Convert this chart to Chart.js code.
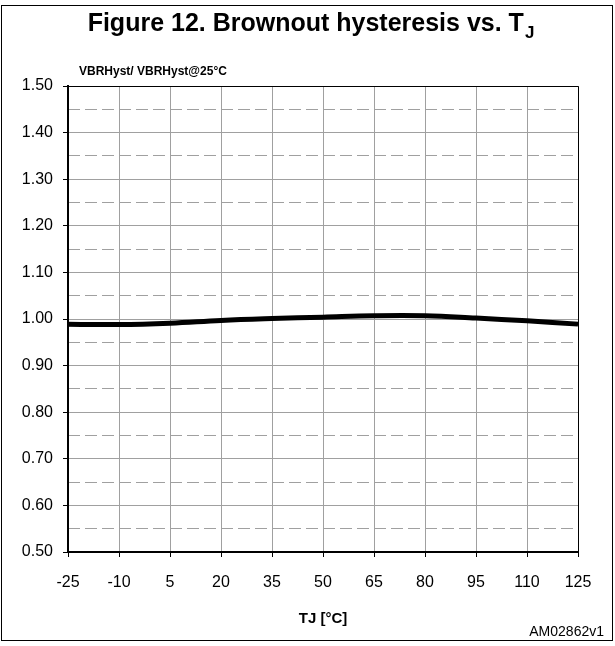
<!DOCTYPE html>
<html>
<head>
<meta charset="utf-8">
<script src="https://cdn.jsdelivr.net/npm/chart.js@4"></script>
<style>
  html, body { margin: 0; padding: 0; background: #fff; }
  #wrap { width: 615px; height: 646px; }
</style>
</head>
<body>
<div id="wrap"><canvas id="brownoutChart" width="615" height="646"></canvas></div>
<script>
// Chart data
const tempLabels = ['-25', '-10', '5', '20', '35', '50', '65', '80', '95', '110', '125'];
const hystRatio = [0.989, 0.988, 0.991, 0.997, 1.001, 1.004, 1.007, 1.007, 1.002, 0.996, 0.989];
const yMajorTicks = [0.5, 0.6, 0.7, 0.8, 0.9, 1.0, 1.1, 1.2, 1.3, 1.4, 1.5];
const yMinorTicks = [0.55, 0.65, 0.75, 0.85, 0.95, 1.05, 1.15, 1.25, 1.35, 1.45];

const FONT = "'Liberation Sans', Arial, sans-serif";
const GRID = '#a0a0a0';

// Frame, title and y label
const decorPlugin = {
    id: 'decor',
    beforeDraw(chart) {
        const ctx = chart.ctx;
        ctx.save();
        ctx.fillStyle = '#fff';
        ctx.fillRect(0, 0, chart.width, chart.height);
        ctx.restore();
    },
    afterDraw(chart) {
        const ctx = chart.ctx;
        ctx.save();
        ctx.strokeStyle = '#000';
        ctx.lineWidth = 1;
        ctx.strokeRect(1.5, 5.5, 611, 635);

        // title with subscript J
        ctx.fillStyle = '#000';
        ctx.textBaseline = 'alphabetic';
        const main = 'Figure 12. Brownout hysteresis vs. T';
        ctx.font = 'bold 25px ' + FONT;
        const w1 = ctx.measureText(main).width;
        ctx.font = 'bold 17px ' + FONT;
        const w2 = ctx.measureText('J').width;
        const x0 = (chart.width - w1 - w2) / 2 + 3;
        ctx.font = 'bold 25px ' + FONT;
        ctx.fillText(main, x0, 31);
        ctx.font = 'bold 17px ' + FONT;
        ctx.fillText('J', x0 + w1 + 1, 38);

        ctx.font = 'bold 12px ' + FONT;
        ctx.textBaseline = 'middle';
        ctx.fillText('VBRHyst/ VBRHyst@25°C', 79, 72);

        ctx.font = '14px ' + FONT;
        ctx.textAlign = 'right';
        ctx.fillText('AM02862v1', 604, 632);

        // chart area top / right border
        const a = chart.chartArea;
        ctx.beginPath();
        ctx.moveTo(a.left, a.top + 0.5);
        ctx.lineTo(a.right + 0.5, a.top + 0.5);
        ctx.lineTo(a.right + 0.5, a.bottom);
        ctx.stroke();
        ctx.restore();
    }
};

new Chart(document.getElementById('brownoutChart'), {
    type: 'line',
    data: {
        labels: tempLabels,
        datasets: [{
            data: hystRatio,
            borderColor: '#000',
            borderWidth: 5,
            pointRadius: 0,
            tension: 0.4,
            fill: false
        }]
    },
    options: {
        responsive: false,
        animation: false,
        layout: { padding: { top: 86, right: 37, left: 0, bottom: 0 } },
        plugins: { legend: { display: false }, tooltip: { enabled: false } },
        scales: {
            x: {
                type: 'category',
                offset: false,
                afterFit(scale) { scale.height = 94; },
                grid: {
                    color: GRID,
                    lineWidth: 1,
                    tickLength: 5,
                    tickColor: '#000'
                },
                border: { color: '#000', width: 2 },
                ticks: {
                    color: '#000',
                    padding: 16,
                    maxRotation: 0,
                    autoSkip: false,
                    font: { family: FONT, size: 16 }
                },
                title: {
                    display: true,
                    text: 'TJ [°C]',
                    color: '#000',
                    padding: { top: 12, bottom: 18 },
                    font: { family: FONT, size: 15, weight: 'bold' }
                }
            },
            y: {
                min: 0.5,
                max: 1.5,
                afterFit(scale) { scale.width = 68; },
                afterBuildTicks(scale) { scale.ticks = yMajorTicks.map(v => ({ value: v })); },
                grid: {
                    color: GRID,
                    lineWidth: 1,
                    tickLength: 5,
                    tickColor: '#000'
                },
                border: { color: '#000', width: 2 },
                ticks: {
                    color: '#000',
                    padding: 10,
                    font: { family: FONT, size: 16 },
                    callback: v => Number(v).toFixed(2)
                }
            },
            yMinor: {
                position: 'left',
                min: 0.5,
                max: 1.5,
                display: true,
                afterFit(scale) { scale.width = 0; },
                afterBuildTicks(scale) { scale.ticks = yMinorTicks.map(v => ({ value: v })); },
                grid: { color: GRID, lineWidth: 1, drawTicks: false },
                border: { display: false, dash: [12, 5] },
                ticks: { display: false }
            }
        }
    },
    plugins: [decorPlugin]
});
</script>
</body>
</html>
